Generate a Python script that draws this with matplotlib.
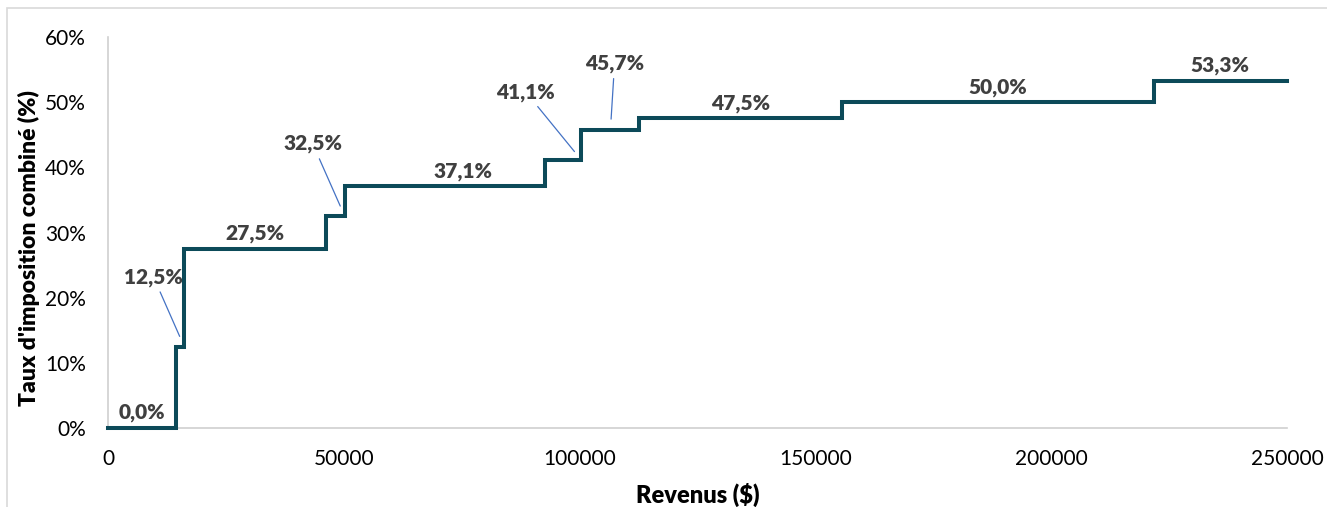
import matplotlib.pyplot as plt
from matplotlib.patches import Rectangle

plt.rcParams['font.family'] = ['Lato', 'DejaVu Sans']

# seuils de revenus ($) et taux combinés (%) de chaque palier
seuils = [0, 14398, 16143, 46295, 50197, 92580, 100392, 112655, 155625, 221708]
taux = [0.0, 12.5, 27.5, 32.5, 37.1, 41.1, 45.7, 47.5, 50.0, 53.3]
revenu_max = 250000
etiquettes = ['0,0%', '12,5%', '27,5%', '32,5%', '37,1%', '41,1%', '45,7%', '47,5%', '50,0%', '53,3%']

# décalage des étiquettes (points) et ancrage le long du palier (0 = début, 1 = fin)
decalages = [(0, 4), (-22, 50), (0, 4), (-23, 52), (13, 4), (-40, 49), (3, 48), (0, 4), (0, 4), (0, 4)]
ancrages = [0.5, 1.0, 0.5, 1.0, 0.5, 1.0, 0.5, 0.5, 0.5, 0.5]
avec_trait = [False, True, False, True, False, True, True, False, False, False]

fig = plt.figure(figsize=(13.27, 5.07), dpi=100)
ax = fig.add_axes([0.0814, 0.1558, 0.8885, 0.7712])

x_pts = seuils + [revenu_max]
y_pts = taux + [taux[-1]]
ax.step(x_pts, y_pts, where='post', color='#0c4a59', lw=2.9, solid_joinstyle='miter',
        clip_on=False, zorder=3)

fins = seuils[1:] + [revenu_max]
for i in range(len(taux)):
    xa = seuils[i] + ancrages[i] * (fins[i] - seuils[i])
    if avec_trait[i]:
        ax.annotate(etiquettes[i], xy=(xa, taux[i]), xytext=decalages[i],
                    textcoords='offset points', ha='center', va='center',
                    fontsize=15, fontweight='heavy', color='#404040',
                    arrowprops=dict(arrowstyle='-', color='#4472c4', lw=0.9,
                                    shrinkA=2, shrinkB=8))
    else:
        ax.annotate(etiquettes[i], xy=(xa, taux[i]), xytext=decalages[i],
                    textcoords='offset points', ha='center', va='bottom',
                    fontsize=15, fontweight='heavy', color='#404040')

ax.set_xlim(0, revenu_max)
ax.set_ylim(0, 60)
ax.set_xticks([0, 50000, 100000, 150000, 200000, 250000])
ax.set_yticks(range(0, 61, 10))
ax.set_yticklabels([f'{v}%' for v in range(0, 61, 10)])
ax.tick_params(axis='both', length=0, labelsize=15, colors='#000000')
ax.tick_params(axis='y', pad=16)
ax.tick_params(axis='x', pad=15)

for s in ['top', 'right']:
    ax.spines[s].set_visible(False)
for s in ['left', 'bottom']:
    ax.spines[s].set_color('#d0d0d0')
    ax.spines[s].set_linewidth(1.2)

ax.set_xlabel('Revenus ($)', fontsize=17, fontweight='heavy', labelpad=10)
ax.set_ylabel("Taux d'imposition combiné (%)", fontsize=16.5, fontweight='heavy', labelpad=2)
ax.yaxis.set_label_coords(-0.058, 0.46)

# cadre du graphique
fig.patches.append(Rectangle((7 / 1327, -0.1), 1.2, 1.1 - 8 / 507, transform=fig.transFigure,
                             fill=False, ec='#d9d9d9', lw=1.2))

fig.savefig('out.png', dpi=100)
